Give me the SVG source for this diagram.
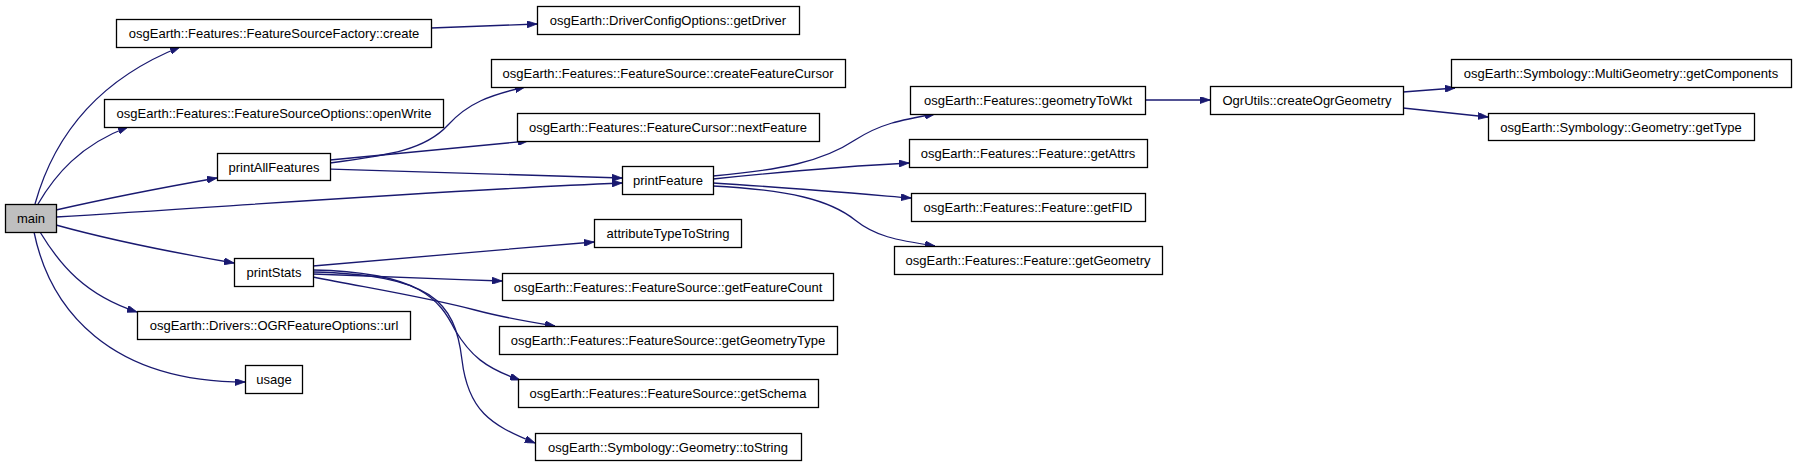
<svg xmlns="http://www.w3.org/2000/svg" width="1797" height="467" viewBox="0 0 1797 467">
<style>
.node rect{fill:#ffffff;stroke:#000000;stroke-width:1.3}
.node.root rect{fill:#bfbfbf}
.node text{font-family:"Liberation Sans",Arial,sans-serif;font-size:13px;fill:#000000;text-anchor:middle}
.edges path{fill:none;stroke:#191970;stroke-width:1.3;marker-end:url(#arrow)}
</style>
<defs>
<marker id="arrow" viewBox="0 0 10 7" refX="10" refY="3.5" markerWidth="10" markerHeight="7" markerUnits="userSpaceOnUse" orient="auto">
<path d="M0,0 L10,3.5 L0,7 z" fill="#191970" stroke="#191970" stroke-width="0.8"/>
</marker>
</defs>
<rect x="0" y="0" width="1797" height="467" fill="#ffffff"/>
<g id="edges" class="edges">
<path d="M35,204 C50,150 85,85 180,47"/>
<path d="M38,204 C55,175 80,145 128,127"/>
<path d="M56,210 C100,200 160,188 217,178"/>
<path d="M56,217 C250,205 450,190 622,183"/>
<path d="M56,225 C110,240 170,252 234,263"/>
<path d="M40,232 C60,265 85,295 137,312"/>
<path d="M34,232 C50,310 110,382 245,382"/>
<path d="M431,28 L537,24"/>
<path d="M330,163 C390,155 425,150 448,125 C468,103 490,95 525,87"/>
<path d="M330,160 C400,153 470,147 528,141"/>
<path d="M330,169 C430,172 530,176 622,178"/>
<path d="M313,266 C400,258 500,250 594,242"/>
<path d="M313,274 C380,276 440,279 502,281"/>
<path d="M313,277 C380,290 430,298 475,310 C505,318 530,322 555,326"/>
<path d="M313,270 C420,272 440,300 455,330 C470,355 485,368 520,380"/>
<path d="M313,272 C430,275 455,300 462,360 C468,410 490,425 535,443"/>
<path d="M713,176 C780,170 822,162 855,140 C880,124 900,120 935,114"/>
<path d="M713,179 C780,172 850,166 909,163"/>
<path d="M713,183 C780,187 850,193 911,198"/>
<path d="M713,186 C790,190 830,200 855,220 C875,236 895,240 935,246"/>
<path d="M1145,100 L1210,100"/>
<path d="M1403,92 L1455,88"/>
<path d="M1403,108 L1488,117"/>
</g>
<g id="n_main" class="node root"><rect x="5.5" y="204.5" width="51" height="28"/><text x="31" y="223">main</text></g>
<g id="n_create" class="node"><rect x="116.5" y="19.5" width="315" height="28"/><text x="274" y="38">osgEarth::Features::FeatureSourceFactory::create</text></g>
<g id="n_openWrite" class="node"><rect x="104.5" y="99.5" width="339" height="28"/><text x="274" y="118">osgEarth::Features::FeatureSourceOptions::openWrite</text></g>
<g id="n_printAllFeatures" class="node"><rect x="217.5" y="153.5" width="113" height="27"/><text x="274" y="171.5">printAllFeatures</text></g>
<g id="n_printStats" class="node"><rect x="234.5" y="258.5" width="79" height="28"/><text x="274" y="277">printStats</text></g>
<g id="n_url" class="node"><rect x="137.5" y="311.5" width="273" height="28"/><text x="274" y="330">osgEarth::Drivers::OGRFeatureOptions::url</text></g>
<g id="n_usage" class="node"><rect x="245.5" y="365.5" width="57" height="28"/><text x="274" y="384">usage</text></g>
<g id="n_getDriver" class="node"><rect x="537.5" y="6.5" width="262" height="28"/><text x="668" y="25">osgEarth::DriverConfigOptions::getDriver</text></g>
<g id="n_createFeatureCursor" class="node"><rect x="491.5" y="59.5" width="354" height="28"/><text x="668" y="78">osgEarth::Features::FeatureSource::createFeatureCursor</text></g>
<g id="n_nextFeature" class="node"><rect x="517.5" y="113.5" width="302" height="28"/><text x="668" y="132">osgEarth::Features::FeatureCursor::nextFeature</text></g>
<g id="n_printFeature" class="node"><rect x="622.5" y="166.5" width="91" height="28"/><text x="668" y="185">printFeature</text></g>
<g id="n_attributeTypeToString" class="node"><rect x="594.5" y="219.5" width="147" height="28"/><text x="668" y="238">attributeTypeToString</text></g>
<g id="n_getFeatureCount" class="node"><rect x="502.5" y="273.5" width="331" height="27"/><text x="668" y="291.5">osgEarth::Features::FeatureSource::getFeatureCount</text></g>
<g id="n_getGeometryType" class="node"><rect x="499.5" y="326.5" width="338" height="28"/><text x="668" y="345">osgEarth::Features::FeatureSource::getGeometryType</text></g>
<g id="n_getSchema" class="node"><rect x="518.5" y="379.5" width="300" height="28"/><text x="668" y="398">osgEarth::Features::FeatureSource::getSchema</text></g>
<g id="n_toString" class="node"><rect x="535.5" y="433.5" width="266" height="27"/><text x="668" y="451.5">osgEarth::Symbology::Geometry::toString</text></g>
<g id="n_geometryToWkt" class="node"><rect x="910.5" y="86.5" width="235" height="28"/><text x="1028" y="105">osgEarth::Features::geometryToWkt</text></g>
<g id="n_getAttrs" class="node"><rect x="909.5" y="139.5" width="238" height="28"/><text x="1028" y="158">osgEarth::Features::Feature::getAttrs</text></g>
<g id="n_getFID" class="node"><rect x="911.5" y="193.5" width="234" height="28"/><text x="1028" y="212">osgEarth::Features::Feature::getFID</text></g>
<g id="n_getGeometry" class="node"><rect x="894.5" y="246.5" width="268" height="28"/><text x="1028" y="265">osgEarth::Features::Feature::getGeometry</text></g>
<g id="n_createOgrGeometry" class="node"><rect x="1210.5" y="86.5" width="193" height="28"/><text x="1307" y="105">OgrUtils::createOgrGeometry</text></g>
<g id="n_getComponents" class="node"><rect x="1451.5" y="59.5" width="340" height="28"/><text x="1621" y="78">osgEarth::Symbology::MultiGeometry::getComponents</text></g>
<g id="n_getType" class="node"><rect x="1488.5" y="113.5" width="266" height="27"/><text x="1621" y="131.5">osgEarth::Symbology::Geometry::getType</text></g>
</svg>
